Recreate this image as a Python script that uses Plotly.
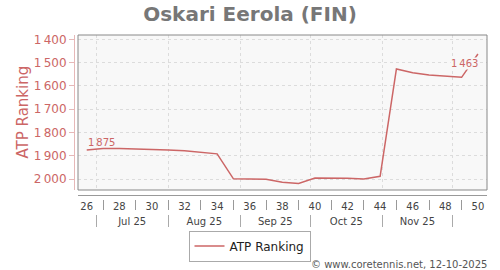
import plotly.graph_objects as go
import pandas as pd

# ---- data ----
weeks = list(range(26, 51))
ranks = [1875, 1868, 1868, 1869, 1871, 1874, 1878, 1884, 1891, 1998,
         1999, 2000, 2013, 2018, 1995, 1995, 1996, 1999, 1987, 1527,
         1543, 1553, 1559, 1563, 1463]
first_week_date = "2025-06-27"
y_ticks = [1400, 1500, 1600, 1700, 1800, 1900, 2000]
y_ticktext = ["1\u2009400", "1\u2009500", "1\u2009600", "1\u2009700", "1\u2009800", "1\u2009900", "2\u2009000"]
month_starts = ["2025-07-01", "2025-08-01", "2025-09-01", "2025-10-01", "2025-11-01", "2025-12-01"]
month_labels = ["Jul 25", "Aug 25", "Sep 25", "Oct 25", "Nov 25"]
title_text = "Oskari Eerola (FIN)"
series_name = "ATP Ranking"
credit = "© www.coretennis.net, 12-10-2025"

week_dates = pd.date_range(first_week_date, periods=len(weeks), freq="7D")
ms = pd.to_datetime(month_starts)
month_mids = [ms[i] + (ms[i + 1] - ms[i]) / 2 for i in range(len(month_labels))]
even_idx = [i for i, w in enumerate(weeks) if w % 2 == 0]
odd_idx = [i for i, w in enumerate(weeks) if w % 2 == 1]

def fmt(v):
    s = f"{v:,}"
    return s.replace(",", "\u2009")

# ---- geometry helpers (pixels -> paper) ----
W, H = 500, 270
ML, MR, MT, MB = 60, 13, 35, 0
def fx(px):
    return (px - ML) / (W - ML - MR)
def fy(py):
    return (H - py) / (H - MT - MB)

x_range = [pd.Timestamp(first_week_date) - pd.Timedelta(days=3.75),
           pd.Timestamp(first_week_date) + pd.Timedelta(days=171.9)]

RED = "#cc6666"
PLOT_BG = "#f8f8f8"
fig = go.Figure()
fig.add_trace(go.Scatter(x=week_dates, y=ranks, mode="lines", name=series_name,
                         line=dict(color=RED, width=1.5), showlegend=True))
# carrier traces so the helper (scale) axes are drawn
for ax in ["x2", "x3", "x4", "x5", "x6"]:
    fig.add_trace(go.Scatter(x=week_dates, y=ranks, xaxis=ax, yaxis="y", mode="lines",
                             line=dict(color="rgba(0,0,0,0)", width=0), showlegend=False,
                             hoverinfo="skip"))

base_x = dict(range=x_range, type="date", showgrid=False, zeroline=False,
              gridcolor="rgba(0,0,0,0)")
fig.update_layout(
    width=W, height=H,
    margin=dict(l=ML, r=MR, t=MT, b=MB),
    paper_bgcolor="white", plot_bgcolor=PLOT_BG,
    font=dict(family="DejaVu Sans", size=10, color="#444"),
    title=dict(text=f"<b>{title_text}</b>", x=0.5, xanchor="center", y=1 - 13.5 / H, yanchor="middle",
               font=dict(family="DejaVu Sans", size=20, color="#777")),
    xaxis=dict(range=x_range, type="date", zeroline=False, showgrid=True,
               domain=[fx(78), 1], anchor="y",
               tickvals=ms, showticklabels=False, ticks="",
               gridcolor="#dcdcdc", griddash="3px,3px", gridwidth=1),
    yaxis=dict(domain=[fy(190), 1], range=[2046, 1381.5], anchor="free", position=fx(74),
               tickvals=y_ticks, ticktext=y_ticktext, ticks="outside", ticklen=5,
               tickcolor="#e6b8b8", showline=True, linecolor="#e6b8b8", linewidth=1,
               tickfont=dict(size=12, color=RED), gridcolor="#dcdcdc", griddash="3px,3px",
               zeroline=False),
    xaxis2=dict(**base_x, overlaying="x", anchor="free", position=fy(195),
                showline=True, linecolor="#999", linewidth=1, ticks="", showticklabels=False),
    xaxis3=dict(**base_x, overlaying="x", anchor="free", position=fy(199),
                tickvals=[week_dates[i] for i in even_idx],
                ticktext=[str(weeks[i]) for i in even_idx],
                ticks="", tickfont=dict(size=10, color="#444")),
    xaxis4=dict(**base_x, overlaying="x", anchor="free", position=fy(199),
                tickvals=[week_dates[i] for i in odd_idx], showticklabels=False,
                ticks="outside", ticklen=10, tickcolor="#999"),
    xaxis5=dict(**base_x, overlaying="x", anchor="free", position=fy(214),
                tickvals=month_mids, ticktext=month_labels,
                ticks="", tickfont=dict(size=10, color="#444")),
    xaxis6=dict(**base_x, overlaying="x", anchor="free", position=fy(214),
                tickvals=ms, showticklabels=False,
                ticks="outside", ticklen=12, tickcolor="#aaa"),
    legend=dict(orientation="h", x=fx(249.5), xanchor="center", y=fy(246), yanchor="middle",
                bordercolor="#aaa", borderwidth=1, bgcolor="white",
                font=dict(size=12, color="#222"), itemwidth=30),
    showlegend=True,
)

# plot border
fig.add_shape(type="rect", xref="x domain", yref="y domain", x0=0, x1=1, y0=0, y1=1,
              line=dict(color="#888", width=1), layer="above")

# y-axis title
fig.add_annotation(text=series_name, xref="paper", yref="paper", x=fx(22), y=fy(112.5),
                   textangle=-90, showarrow=False, xanchor="center", yanchor="middle",
                   font=dict(size=15, color=RED))

# value labels for first and last points
fig.add_annotation(x=week_dates[0], y=ranks[0], text=fmt(ranks[0]), showarrow=False,
                   xanchor="left", yanchor="middle", yshift=8, xshift=-1,
                   font=dict(size=10, color=RED))
fig.add_annotation(x=week_dates[-1], y=ranks[-1], text=fmt(ranks[-1]), showarrow=False,
                   xanchor="right", yanchor="middle", yshift=-9, xshift=1,
                   bgcolor=PLOT_BG, borderpad=0,
                   font=dict(size=10, color=RED))

# credit
fig.add_annotation(text=credit, xref="paper", yref="paper", x=fx(489), y=fy(264),
                   xanchor="right", yanchor="middle", showarrow=False,
                   font=dict(size=10, color="#555"))

fig.write_html("out.html")
